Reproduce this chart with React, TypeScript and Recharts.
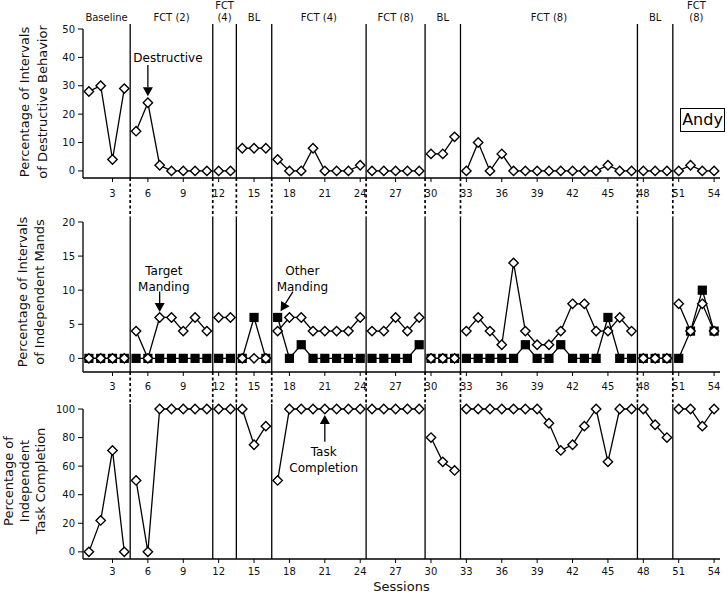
import React from "react";
import {
  LineChart,
  Line,
  XAxis,
  YAxis,
  ReferenceLine,
  ReferenceArea,
  ReferenceDot,
} from "recharts";

// phases of the reversal design, in session order
const phaseNames = ["Baseline", "FCT (2)", "FCT\n(4)", "BL", "FCT (4)", "FCT (8)", "BL", "FCT (8)", "BL", "FCT\n(8)"];
const phaseLengths = [4, 7, 2, 3, 8, 5, 3, 15, 3, 4];

const destructive = [
  28, 30, 4, 29,
  14, 24, 2, 0, 0, 0, 0,
  0, 0,
  8, 8, 8,
  4, 0, 0, 8, 0, 0, 0, 2,
  0, 0, 0, 0, 0,
  6, 6, 12,
  0, 10, 0, 6, 0, 0, 0, 0, 0, 0, 0, 0, 2, 0, 0,
  0, 0, 0,
  0, 2, 0, 0,
];

const targetMands = [
  0, 0, 0, 0,
  4, 0, 6, 6, 4, 6, 4,
  6, 6,
  0, 0, 0,
  4, 6, 6, 4, 4, 4, 4, 6,
  4, 4, 6, 4, 6,
  0, 0, 0,
  4, 6, 4, 2, 14, 4, 2, 2, 4, 8, 8, 4, 4, 6, 4,
  0, 0, 0,
  8, 4, 8, 4,
];

const otherMands = [
  0, 0, 0, 0,
  0, 0, 0, 0, 0, 0, 0,
  0, 0,
  0, 6, 0,
  6, 0, 2, 0, 0, 0, 0, 0,
  0, 0, 0, 0, 2,
  0, 0, 0,
  0, 0, 0, 0, 0, 2, 0, 0, 2, 0, 0, 0, 6, 0, 0,
  0, 0, 0,
  0, 4, 10, 4,
];

const taskCompletion = [
  0, 22, 71, 0,
  50, 0, 100, 100, 100, 100, 100,
  100, 100,
  100, 75, 88,
  50, 100, 100, 100, 100, 100, 100, 100,
  100, 100, 100, 100, 100,
  80, 63, 57,
  100, 100, 100, 100, 100, 100, 100, 90, 71, 75, 88, 100, 63, 100, 100,
  100, 89, 80,
  100, 100, 88, 100,
];

const sessionTicks = [3, 6, 9, 12, 15, 18, 21, 24, 27, 30, 33, 36, 39, 42, 45, 48, 51, 54];
const destructiveTicks = [0, 10, 20, 30, 40, 50];
const mandTicks = [0, 5, 10, 15, 20];
const taskTicks = [0, 20, 40, 60, 80, 100];

const FONT = "'DejaVu Sans', Verdana, sans-serif";

const phaseStarts = phaseLengths.map(
  (_, i) => phaseLengths.slice(0, i).reduce((a, b) => a + b, 0) + 1
);
const boundaries = phaseStarts.slice(1).map((s) => s - 0.5);

function byPhase(values: number[]) {
  return phaseStarts.map((start, i) =>
    values
      .slice(start - 1, start - 1 + phaseLengths[i])
      .map((v, j) => ({ session: start + j, value: v }))
  );
}

const diamond = (p: any) => {
  const { cx, cy, index } = p;
  if (cx == null || cy == null) return <g key={`e${index}`} />;
  const r = 4.7;
  return (
    <path
      key={`d${index}`}
      d={`M${cx},${cy - r}L${cx + r},${cy}L${cx},${cy + r}L${cx - r},${cy}Z`}
      fill="#fff"
      stroke="#000"
      strokeWidth={1.4}
    />
  );
};

const square = (p: any) => {
  const { cx, cy, index } = p;
  if (cx == null || cy == null) return <g key={`e${index}`} />;
  return <rect key={`s${index}`} x={cx - 4.6} y={cy - 4.6} width={9.2} height={9.2} fill="#000" />;
};

// solid phase line inside the panel, dashed link down to the next panel
const phaseShape = (ext: number) => (p: any) => {
  const top = Math.min(p.y1, p.y2) - 5;
  const bottom = Math.max(p.y1, p.y2);
  return (
    <g>
      <line x1={p.x1} x2={p.x1} y1={top} y2={bottom} stroke="#000" strokeWidth={1.3} />
      {ext > 0 && (
        <line
          x1={p.x1}
          x2={p.x1}
          y1={bottom}
          y2={bottom + ext}
          stroke="#000"
          strokeWidth={1.7}
          strokeDasharray="3 2.5"
        />
      )}
    </g>
  );
};

const arrowShape = (p: any) => {
  const { x1, y1, x2, y2 } = p;
  const a = Math.atan2(y2 - y1, x2 - x1);
  const c = Math.cos(a);
  const s = Math.sin(a);
  const bx = x2 - 9 * c;
  const by = y2 - 9 * s;
  const hx = -s * 5;
  const hy = c * 5;
  return (
    <g>
      <line x1={x1} y1={y1} x2={bx} y2={by} stroke="#000" strokeWidth={1.3} />
      <path d={`M${x2},${y2}L${bx + hx},${by + hy}L${bx - hx},${by - hy}Z`} fill="#000" />
    </g>
  );
};

const noteLabel = (lines: string[]) => (p: any) => {
  const vb = p.viewBox || {};
  const cx = vb.x + (vb.width || 0) / 2;
  const cy = vb.y + (vb.height || 0) / 2;
  const y0 = cy - ((lines.length - 1) * 16) / 2;
  return (
    <text textAnchor="middle" fontSize={12} fontFamily={FONT} fill="#000">
      {lines.map((l, i) => (
        <tspan key={i} x={cx} y={y0 + i * 16} dy="0.36em">
          {l}
        </tspan>
      ))}
    </text>
  );
};

const phaseLabel = (name: string) => (p: any) => {
  const vb = p.viewBox || {};
  const cx = vb.x + vb.width / 2;
  const lines = name.split("\n");
  return (
    <text textAnchor="middle" fontSize={10} fontFamily={FONT} fill="#111">
      {lines.map((l, i) => (
        <tspan key={i} x={cx} y={vb.y - 8 - (lines.length - 1 - i) * 12}>
          {l}
        </tspan>
      ))}
    </text>
  );
};

const sessionsLabel = (p: any) => {
  const vb = p.viewBox || {};
  return (
    <text
      x={vb.x + vb.width / 2}
      y={vb.y + vb.height - 2}
      textAnchor="middle"
      fontSize={13}
      fontFamily={FONT}
      fill="#111"
    >
      Sessions
    </text>
  );
};

const tickStyle = { fontSize: 10, fill: "#111", fontFamily: FONT };
const axisLine = { stroke: "#000", strokeWidth: 1.3 };

function xAxis(height: number, margin: number, label?: any) {
  return (
    <XAxis
      type="number"
      dataKey="session"
      domain={[0.5, 54.5]}
      ticks={sessionTicks}
      interval={0}
      height={height}
      tickSize={4}
      tickMargin={margin}
      tick={tickStyle}
      axisLine={axisLine}
      tickLine={{ stroke: "#000" }}
      label={label}
    />
  );
}

function yAxis(domain: number[], ticks: number[]) {
  return (
    <YAxis
      type="number"
      domain={domain}
      ticks={ticks}
      interval={0}
      width={83}
      tickSize={5}
      tickMargin={3}
      tick={tickStyle}
      axisLine={axisLine}
      tickLine={{ stroke: "#000" }}
    />
  );
}

function phaseLines(ext: number) {
  return boundaries.map((b) => (
    <ReferenceLine key={`b${b}`} x={b} shape={phaseShape(ext)} />
  ));
}

function seriesLines(values: number[], dot: any, tag: string) {
  return byPhase(values).map((d, i) => (
    <Line
      key={`${tag}${i}`}
      data={d}
      dataKey="value"
      stroke="#000"
      strokeWidth={1.3}
      dot={dot}
      activeDot={false}
      isAnimationActive={false}
    />
  ));
}

function Title({ x, y, lines, gap }: { x: number; y: number; lines: string[]; gap: number }) {
  return (
    <>
      {lines.map((l, i) => (
        <text
          key={i}
          x={x + i * gap}
          y={y}
          transform={`rotate(-90 ${x + i * gap} ${y})`}
          textAnchor="middle"
          dominantBaseline="central"
          fontSize={13}
          fontFamily={FONT}
          fill="#111"
        >
          {l}
        </text>
      ))}
    </>
  );
}

export default function App() {
  return (
    <div
      style={{
        position: "absolute",
        left: 0,
        top: 0,
        width: 727,
        height: 593,
        background: "#fff",
        fontFamily: FONT,
      }}
    >
      {/* destructive behavior */}
      <div style={{ position: "absolute", left: 0, top: 0 }}>
        <LineChart width={727} height={218} margin={{ top: 29, right: 7, left: 0, bottom: 0 }}>
          {xAxis(40, 8)}
          {yAxis([-2.5, 50], destructiveTicks)}
          {phaseStarts.map((s, i) => (
            <ReferenceArea
              key={`p${i}`}
              x1={s - 0.5}
              x2={s - 0.5 + phaseLengths[i]}
              fill="none"
              stroke="none"
              label={phaseLabel(phaseNames[i])}
            />
          ))}
          {phaseLines(39)}
          {seriesLines(destructive, diamond, "dest")}
          <ReferenceLine segment={[{ x: 6, y: 37.3 }, { x: 6, y: 26.3 }]} shape={arrowShape} />
          <ReferenceDot x={7.7} y={39.8} r={0} fill="none" stroke="none" label={noteLabel(["Destructive"])} />
        </LineChart>
      </div>

      {/* independent mands */}
      <div style={{ position: "absolute", left: 0, top: 216 }}>
        <LineChart width={727} height={188} margin={{ top: 6, right: 7, left: 0, bottom: 0 }}>
          {xAxis(32, 7)}
          {yAxis([-2, 20], mandTicks)}
          {phaseLines(31)}
          {seriesLines(otherMands, square, "other")}
          {seriesLines(targetMands, diamond, "target")}
          <ReferenceLine segment={[{ x: 7, y: 9.8 }, { x: 7, y: 6.8 }]} shape={arrowShape} />
          <ReferenceDot x={7.35} y={11.7} r={0} fill="none" stroke="none" label={noteLabel(["Target", "Manding"])} />
          <ReferenceLine segment={[{ x: 18.3, y: 9.8 }, { x: 17.25, y: 6.9 }]} shape={arrowShape} />
          <ReferenceDot x={19.1} y={11.7} r={0} fill="none" stroke="none" label={noteLabel(["Other", "Manding"])} />
        </LineChart>
      </div>

      {/* task completion */}
      <div style={{ position: "absolute", left: 0, top: 402 }}>
        <LineChart width={727} height={191} margin={{ top: 7, right: 7, left: 0, bottom: 0 }}>
          {xAxis(34, 5, { content: sessionsLabel })}
          {yAxis([-5, 100], taskTicks)}
          {phaseLines(0)}
          {seriesLines(taskCompletion, diamond, "task")}
          <ReferenceLine segment={[{ x: 21, y: 77 }, { x: 21, y: 95.8 }]} shape={arrowShape} />
          <ReferenceDot x={20.9} y={64.5} r={0} fill="none" stroke="none" label={noteLabel(["Task", "Completion"])} />
        </LineChart>
      </div>

      <svg
        width={83}
        height={593}
        style={{ position: "absolute", left: 0, top: 0, pointerEvents: "none" }}
      >
        <Title x={24} y={102} gap={18} lines={["Percentage of Intervals", "of Destructive Behavior"]} />
        <Title x={22} y={292} gap={17} lines={["Percentage of Intervals", "of Independent Mands"]} />
        <Title x={8} y={481} gap={16} lines={["Percentage of", "Independent", "Task Completion"]} />
      </svg>

      <div
        style={{
          position: "absolute",
          left: 680,
          top: 108,
          width: 45,
          height: 24,
          boxSizing: "border-box",
          border: "1.5px solid #000",
          fontSize: 16,
          lineHeight: "21px",
          textAlign: "center",
          color: "#000",
        }}
      >
        Andy
      </div>
    </div>
  );
}
